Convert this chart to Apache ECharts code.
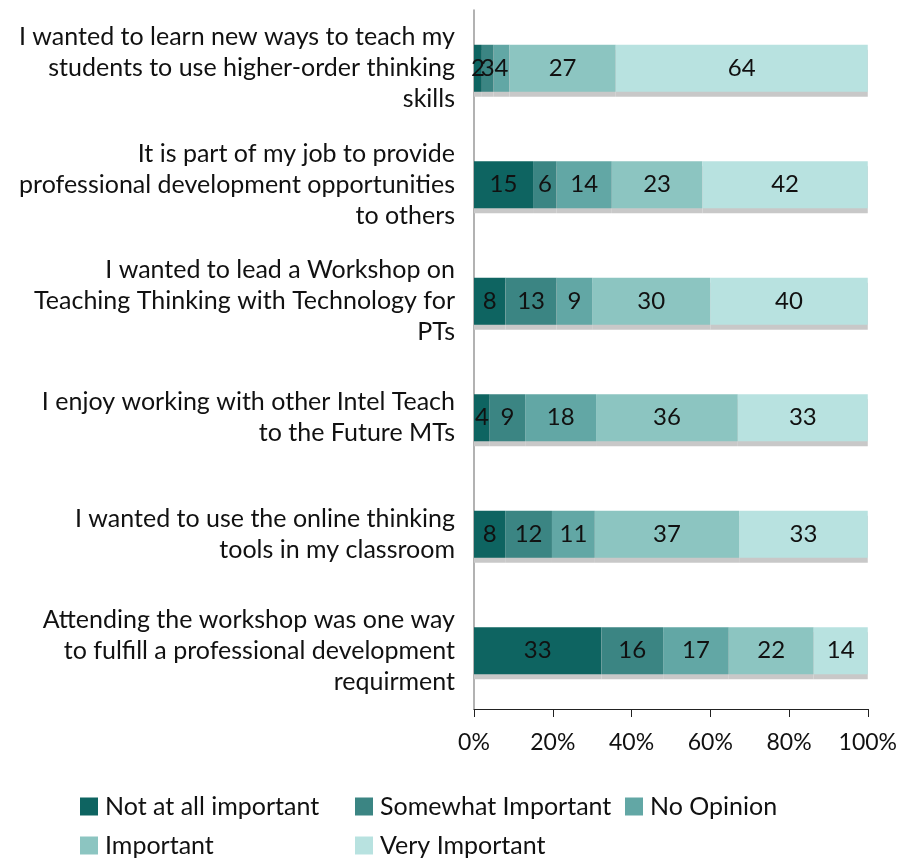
<!DOCTYPE html>
<html>
<head>
  <meta charset="utf-8">
  <script src="https://cdn.jsdelivr.net/npm/echarts@6/dist/echarts.min.js"></script>
  <style>body{margin:0;background:#fff}</style>
</head>
<body>
<div id="main" style="width:900px;height:861px;"></div>
<script type="text/javascript">
var categories = [
  'I wanted to learn new ways to teach my\nstudents to use higher-order thinking\nskills',
  'It is part of my job to provide\nprofessional development opportunities\nto others',
  'I wanted to lead a Workshop on\nTeaching Thinking with Technology for\nPTs',
  'I enjoy working with other Intel Teach\nto the Future MTs',
  'I wanted to use the online thinking\ntools in my classroom',
  'Attending the workshop was one way\nto fulfill a professional development\nrequirment'
];
var seriesNames = ['Not at all important', 'Somewhat Important', 'No Opinion', 'Important', 'Very Important'];
var colors = ['#0e6461', '#3b8583', '#62a7a5', '#8cc5c1', '#b8e2e0'];

var notAtAll  = [2, 15, 8, 4, 8, 33];
var somewhat  = [3, 6, 13, 9, 12, 16];
var noOpinion = [4, 14, 9, 18, 11, 17];
var important = [27, 23, 30, 36, 37, 22];
var veryImp   = [64, 42, 40, 33, 33, 14];
var xTicks = [0, 20, 40, 60, 80, 100];

var raw = [notAtAll, somewhat, noOpinion, important, veryImp];
var totals = categories.map(function (c, i) {
  var s = 0;
  for (var k = 0; k < raw.length; k++) s += raw[k][i];
  return s;
});

var font = 'Lato, "Open Sans", sans-serif';
var series = raw.map(function (arr, k) {
  return {
    name: seriesNames[k],
    type: 'bar',
    stack: 'total',
    barWidth: 47,
    itemStyle: {
      color: colors[k],
      shadowColor: '#c8c8c8',
      shadowOffsetX: 0,
      shadowOffsetY: 5,
      shadowBlur: 0
    },
    label: {
      show: true,
      position: 'inside',
      color: '#111',
      fontSize: 24,
      fontFamily: font,
      formatter: function (p) { return arr[p.dataIndex]; }
    },
    data: arr.map(function (v, i) { return v / totals[i] * 100; })
  };
});

// one vertical legend per column so the two rows line up like the original
function legendAt(left, names) {
  return {
    left: left, top: 794, height: 90, orient: 'vertical', itemGap: 14,
    itemWidth: 18, itemHeight: 18, icon: 'rect', padding: 0,
    textStyle: { fontSize: 25, fontFamily: font, color: '#111', padding: [0, 0, 0, 2] },
    data: names
  };
}

var myChart = echarts.init(document.getElementById('main'));
myChart.setOption({
  animation: false,
  color: colors,
  grid: { left: 474, right: 32, top: 10, bottom: 152, containLabel: false },
  legend: [
    legendAt(80, [seriesNames[0], seriesNames[3]]),
    legendAt(355, [seriesNames[1], seriesNames[4]]),
    legendAt(625, [seriesNames[2]])
  ],
  xAxis: {
    type: 'value',
    min: xTicks[0],
    max: xTicks[xTicks.length - 1],
    interval: 20,
    splitLine: { show: false },
    axisLine: { show: true, lineStyle: { color: '#222', width: 1 } },
    axisTick: { show: true, length: 8, inside: false, lineStyle: { color: '#222' } },
    axisLabel: {
      margin: 22,
      fontSize: 23,
      fontFamily: font,
      color: '#111',
      formatter: function (v) { return v + '%'; }
    }
  },
  yAxis: {
    type: 'category',
    inverse: true,
    data: categories,
    axisLine: { show: true, lineStyle: { color: '#999', width: 1.5 } },
    axisTick: { show: false },
    axisLabel: {
      margin: 19,
      fontSize: 25,
      lineHeight: 31,
      fontFamily: font,
      color: '#111',
      align: 'right'
    }
  },
  series: series
});
</script>
</body>
</html>
